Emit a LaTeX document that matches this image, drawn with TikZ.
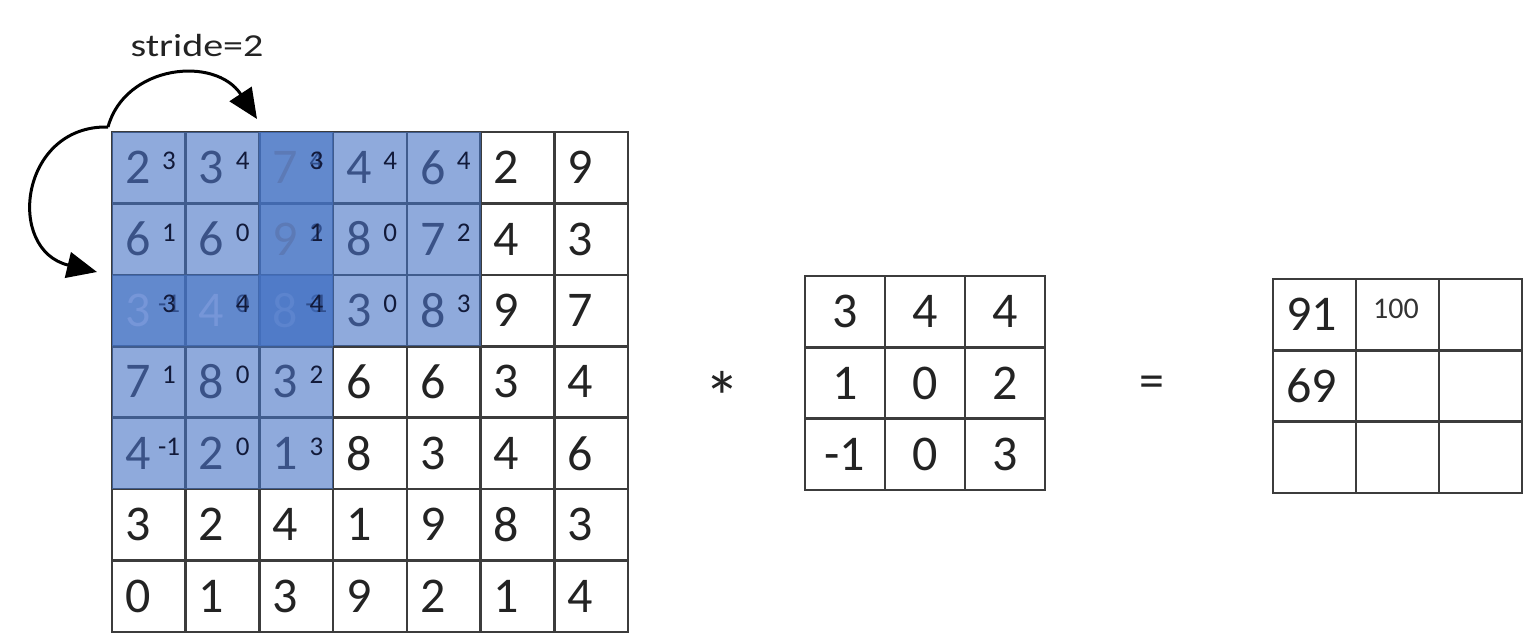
\documentclass[tikz,border=0pt]{standalone}
\usepackage{graphicx}
\usepackage{fontspec}
\setmainfont{Carlito}
\usetikzlibrary{arrows.meta}
\definecolor{winblue}{RGB}{68,114,196}
\definecolor{gridgray}{RGB}{60,60,60}
\definecolor{supnavy}{RGB}{18,26,58}
% digit colours by how many windows cover the cell
\definecolor{cov0}{RGB}{35,35,35}
\definecolor{cov1}{RGB}{58,82,135}
\definecolor{cov20}{RGB}{92,122,182}
\definecolor{cov21}{RGB}{118,150,216}
\definecolor{cov31}{RGB}{92,132,206}

\tikzset{
  cellline/.style={draw=gridgray, line width=2.6pt, line cap=rect},
  digit/.style={inner sep=0pt, text=cov0, font=\fontsize{50}{60}\selectfont},
  supdigit/.style={inner sep=0pt, text=supnavy, font=\fontsize{27}{31}\selectfont},
  window/.style={fill=winblue, fill opacity=0.6},
  stridearrow/.style={line width=3pt, -{Triangle[length=30pt,width=26pt]}}
}

\begin{document}
\begin{tikzpicture}[x=1pt,y=1pt,yscale=-1]
  \useasboundingbox (0,0) rectangle (1540,640);
  % input 7x7 lines
  \foreach \i in {0,...,7} {
    \draw[cellline] ({112+\i*73.7},132) -- ({112+\i*73.7},632);
    \draw[cellline] (112,{132+\i*71.4}) -- (628,{132+\i*71.4});
  }
  % kernel windows
  \foreach \wr/\wc [count=\w] in {1/1,1/3,3/1} {
    \fill[window] ({112+(\wc-1)*73.7},{132+(\wr-1)*71.4}) rectangle ++(221.1,214.2);
    \foreach \krow [count=\i] in {{3,4,4},{1,0,2},{-1,0,3}} {
      \foreach \kv [count=\j] in \krow {
        \node[supdigit] (w\w-\i-\j) at ({112+(\wc+\j-2)*73.7+57},{132+(\wr+\i-2)*71.4+29}) {\kv};
      }
    }
  }
  % input values
  \foreach \row [count=\r] in {{2,3,7,4,6,2,9},{6,6,9,8,7,4,3},{3,4,8,3,8,9,7},{7,8,3,6,6,3,4},{4,2,1,8,3,4,6},{3,2,4,1,9,8,3},{0,1,3,9,2,1,4}} {
    \foreach \v [count=\c] in \row {
      \pgfmathtruncatemacro\n{and(\r<=3,\c<=3)+and(\r<=3,and(\c>=3,\c<=5))+and(and(\r>=3,\r<=5),\c<=3)}
      \pgfmathtruncatemacro\key{\n<2 ? \n : \n*10+(\r==3)}
      \node[digit, text=cov\key, anchor=west] (in-\r-\c) at ({112+(\c-1)*73.7+13},{132+(\r-0.5)*71.4}) {\v};
    }
  }
  % stride arrows
  \coordinate (corner) at (108,127);
  \coordinate (tipright) at (257,119);
  \coordinate (tipdown) at (97,272);
  \draw[stridearrow] (corner) .. controls (125,65) and (215,55) .. (tipright);
  \draw[stridearrow] (corner) .. controls (20,125) and (5,250) .. (tipdown);
  \node[inner sep=0pt, text=cov0, font=\fontsize{32}{38}\selectfont] (stride) at (197,46) {\scalebox{1.25}[1]{stride=2}};
  % kernel 3x3
  \foreach \krow [count=\i] in {{3,4,4},{1,0,2},{-1,0,3}} {
    \foreach \kv [count=\j] in \krow {
      \node[digit] (k-\i-\j) at ({805+(\j-0.5)*80},{276+(\i-0.5)*71.3}) {\kv};
    }
  }
  \foreach \i in {0,...,3} {
    \draw[cellline] ({805+\i*80},276) -- ({805+\i*80},490);
    \draw[cellline] (805,{276+\i*71.3}) -- (1045,{276+\i*71.3});
  }
  \node[digit, anchor=base, font=\fontsize{72}{76}\selectfont] (conv) at (722,422) {*};
  \node[digit, anchor=base] (equals) at (1152,397) {=};
  % output 3x3
  \node[digit, anchor=west] (out-1-1) at (1286,{279+0.5*71.3}) {91};
  \node[digit, anchor=west] (out-2-1) at (1286,{279+1.5*71.3}) {69};
  \node[inner sep=0pt, text=black!80, font=\fontsize{30}{36}\selectfont] (out-1-2) at (1396,309) {100};
  \foreach \i in {0,...,3} {
    \draw[cellline] ({1273+\i*83},279) -- ({1273+\i*83},493);
    \draw[cellline] (1273,{279+\i*71.3}) -- (1522,{279+\i*71.3});
  }
\end{tikzpicture}
\end{document}
